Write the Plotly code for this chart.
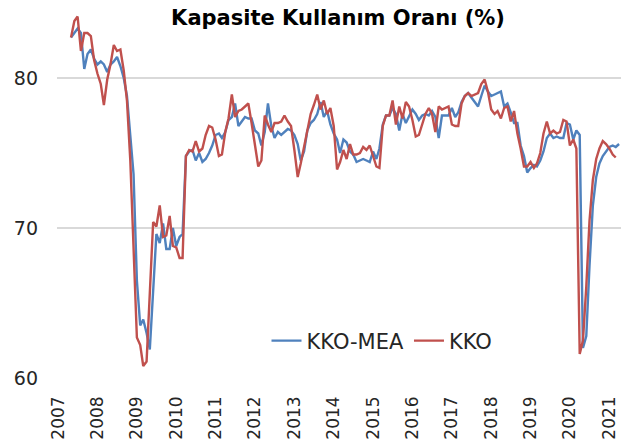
import pandas as pd
import plotly.graph_objects as go

# ---- data (monthly, starting May 2007) ----
kko_mea = [
    82.7, 83.0, 83.3, 83.0, 80.6, 81.6, 81.9, 81.3, 80.9, 81.1,
    80.9, 80.4, 80.9, 81.1, 81.4, 80.8, 80.0, 78.8, 75.9, 73.6,
    66.5, 63.5, 63.9, 63.0, 61.9, 66.3, 69.6, 69.0, 70.3, 68.6,
    68.6, 70.0, 68.8, 69.4, 69.6, 74.8, 75.1, 75.2, 74.5, 75.0,
    74.4, 74.6, 75.0, 75.5, 76.2, 76.3, 76.0, 76.4, 77.2, 77.4,
    78.3, 76.8, 77.1, 77.4, 77.3, 77.3, 76.5, 76.3, 75.5, 76.4,
    78.3, 76.8, 76.0, 76.4, 76.2, 76.4, 76.6, 76.5, 76.2, 75.6,
    74.5, 75.1, 76.5, 77.0, 77.2, 77.6, 78.4, 77.4, 77.8, 76.9,
    76.3, 75.9, 75.0, 75.9, 75.7, 75.1, 74.9, 74.4, 74.5, 74.6,
    74.5, 74.4, 75.1, 74.6, 75.3, 76.9, 77.5, 77.5, 78.0, 77.6,
    76.5, 77.6, 77.0, 77.5, 77.9, 77.6, 77.2, 77.5, 77.6, 77.5,
    77.8, 77.4, 76.0, 77.5, 77.5, 77.5, 78.0, 77.4, 77.7, 78.4,
    78.8, 79.0, 78.7, 78.4, 78.1, 78.8, 79.5, 79.1, 78.8, 78.9,
    79.0, 79.1, 78.1, 78.3, 77.7, 77.0, 77.0, 75.5, 74.8, 73.7,
    74.0, 74.2, 74.1, 74.5, 75.1, 76.0, 76.3, 76.0, 76.1, 76.0,
    76.0, 77.0, 76.9, 75.9, 76.5, 76.2, 62.0, 62.8, 67.5, 71.5,
    73.4, 74.3, 74.8, 75.1, 75.4, 75.5, 75.4, 75.6,
]

kko = [
    82.7, 83.8, 84.1, 81.8, 83.0, 83.0, 82.8, 81.2, 80.3, 79.6,
    78.2, 79.9, 80.9, 82.2, 81.8, 81.9, 80.5, 78.5, 74.5, 69.0,
    62.7, 62.2, 60.8, 61.1, 65.9, 70.4, 70.1, 71.5, 69.4, 69.5,
    70.8, 68.8, 68.7, 68.0, 68.0, 74.8, 75.2, 75.1, 75.8, 75.1,
    75.3, 76.2, 76.8, 76.7, 75.9, 74.8, 74.9, 76.4, 77.3, 78.9,
    77.4, 77.8, 77.9, 78.1, 78.3, 77.0, 75.4, 74.1, 74.5, 77.5,
    76.9, 76.4, 77.0, 77.0, 77.1, 77.5, 77.1, 76.8, 75.2, 73.4,
    74.3, 75.4, 76.6, 77.6, 78.2, 78.9, 77.9, 78.5, 77.6, 78.0,
    76.8, 73.9, 74.4, 75.2, 74.6, 75.6, 74.9, 74.9, 75.0, 75.4,
    75.2, 75.5, 74.8, 74.1, 74.0, 76.8, 77.5, 77.5, 78.5, 76.9,
    78.1, 77.3, 78.4, 78.1, 77.2, 76.1, 76.2, 77.0, 77.6, 78.0,
    77.6, 76.4, 78.1, 77.9, 78.0, 78.1, 76.9, 76.8, 76.8, 78.3,
    78.8, 79.0, 78.8, 78.9, 79.0, 79.6, 79.9, 79.1, 77.9, 77.6,
    77.8, 77.3, 78.0, 78.1, 77.1, 77.8, 76.3, 75.3, 74.1, 74.1,
    74.4, 74.0, 74.3, 75.0, 76.3, 77.1, 76.3, 76.5, 76.3, 76.4,
    77.2, 77.1, 75.5, 75.9, 75.3, 61.6, 62.5, 66.1, 70.5, 73.2,
    74.6, 75.3, 75.8, 75.6, 75.3, 74.9, 74.7,
]

start_month = "2007-05-01"
years = list(range(2007, 2022))
year_ticks = [f"{y}-01-01" for y in years]
year_labels = [str(y) for y in years]
y_ticks = [60, 70, 80]

dates_mea = pd.date_range(start_month, periods=len(kko_mea), freq="MS")
dates_kko = pd.date_range(start_month, periods=len(kko), freq="MS")

FONT = "'DejaVu Sans', sans-serif"

fig = go.Figure()
fig.add_trace(go.Scatter(x=dates_mea, y=kko_mea, mode="lines", name="KKO-MEA",
                         line=dict(color="#4F81BD", width=2.4)))
fig.add_trace(go.Scatter(x=dates_kko, y=kko, mode="lines", name="KKO",
                         line=dict(color="#C0504D", width=2.4)))

fig.update_layout(
    template="none",
    width=621, height=448,
    margin=dict(l=57, r=0, t=3, b=70, autoexpand=False),
    paper_bgcolor="white", plot_bgcolor="white",
    font=dict(family=FONT, color="#262626"),
    title=dict(text="<b>Kapasite Kullanım Oranı (%)</b>",
               x=338/621, xanchor="center", xref="container",
               y=1-18/448, yanchor="middle", yref="container",
               font=dict(family=FONT, size=21, color="#000000")),
    showlegend=True,
    legend=dict(orientation="h", x=(382-57)/564, xanchor="center", y=37/375, yanchor="middle",
                font=dict(family=FONT, size=21, color="#262626"),
                bgcolor="rgba(0,0,0,0)", itemwidth=30),
    hovermode=False,
)
fig.update_xaxes(
    type="date", range=["2006-12-22", "2021-04-19"],
    tickmode="array", tickvals=year_ticks, ticktext=year_labels,
    tickangle=-90, tickfont=dict(size=17, family=FONT, color="#262626"),
    showgrid=False, zeroline=False, showline=False, ticks="",
    ticklabelstandoff=14, automargin=False,
)
fig.update_yaxes(
    range=[60, 85], tickmode="array", tickvals=y_ticks,
    tickfont=dict(size=19, family=FONT, color="#262626"),
    showgrid=True, gridcolor="#D9D9D9", gridwidth=1.5,
    zeroline=False, showline=False, ticks="",
    ticklabelstandoff=18, automargin=False,
)

fig.write_html(
    "out.html",
    config={"displayModeBar": False, "staticPlot": True},
    post_script="document.body.style.margin='0px';document.body.style.padding='0px';",
)
